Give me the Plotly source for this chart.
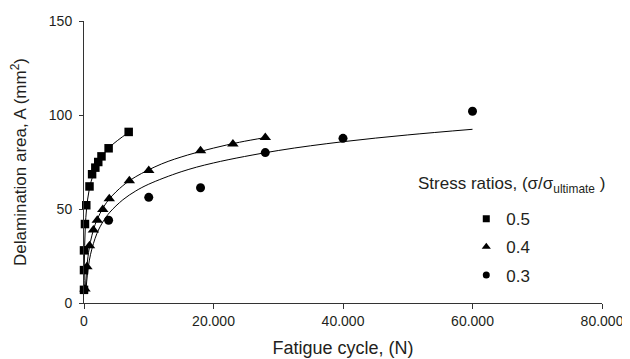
import plotly.graph_objects as go

# Measured data points (fatigue cycles N, delamination area A in mm^2)
sq_N = [0, 0, 0, 150, 350, 850, 1250, 1750, 2200, 2700, 3800, 6900]
sq_A = [7, 17.5, 28, 42, 52, 62, 68.5, 72, 75, 78, 82.3, 91]

tri_N = [150, 450, 850, 1450, 2050, 2900, 3900, 7000, 10000, 18000, 23000, 28000]
tri_A = [7.5, 19.3, 30.5, 38.8, 44, 49.8, 55.5, 65, 70.5, 81, 84.6, 88]

circ_N = [3800, 10000, 18000, 28000, 40000, 60000]
circ_A = [44, 56.2, 61.3, 80, 87.6, 102]

# Trend curves
sq_fit_N = [20, 50, 100, 200, 400, 800, 1500, 2500, 4000, 7000]
sq_fit_A = [7.8, 20.8, 30.7, 40.5, 50.3, 60.2, 69.1, 76.4, 83.0, 91.0]

tri_fit_N = [200, 400, 700, 1000, 1500, 2000, 3000, 4000, 6000, 8000, 12000, 16000, 20000, 24000, 28000]
tri_fit_A = [6, 17.5, 26.8, 32.7, 39.4, 44.2, 50.9, 55.7, 62.4, 67.2, 74, 78.7, 82.4, 85.5, 88]

circ_fit_N = [320, 500, 1000, 2000, 3000, 4000, 6000, 8000, 10000, 15000, 20000, 30000, 40000, 50000, 60000]
circ_fit_A = [7, 14.4, 25.7, 37, 43.6, 48.3, 54.9, 59.6, 63.2, 69.8, 74.5, 81.1, 85.8, 89.4, 92.4]

series_names = ["0.5", "0.4", "0.3"]
symbols = ["square", "triangle-up", "circle"]
x_ticks = [0, 20000, 40000, 60000, 80000]
y_ticks = [0, 50, 100, 150]

FONT = "Liberation Sans, Arial, sans-serif"
TXT = "#231f20"

fig = go.Figure()

for fx, fy in [(sq_fit_N, sq_fit_A), (tri_fit_N, tri_fit_A), (circ_fit_N, circ_fit_A)]:
    fig.add_trace(go.Scatter(x=fx, y=fy, mode="lines", line=dict(color="black", width=1, shape="spline"),
                             showlegend=False, hoverinfo="skip", cliponaxis=False))

markers = [(sq_N, sq_A, 8.5), (tri_N, tri_A, 10), (circ_N, circ_A, 9)]
for i, (x, y, sz) in enumerate(markers):
    fig.add_trace(go.Scatter(x=x, y=y, mode="markers", name=series_names[i],
                             showlegend=False,
                             marker=dict(symbol=symbols[i], size=sz, color="black"),
                             cliponaxis=False))

# legend-only entries (smaller symbols, as in the reference legend)
for i, name in enumerate(series_names):
    fig.add_trace(go.Scatter(x=[None], y=[None], mode="markers", name=name, legendgroup=name,
                             marker=dict(symbol=symbols[i], size=[7, 8, 7][i], color="black")))

fig.add_annotation(text="Stress ratios, (σ/σ<sub>ultimate</sub> )", xref="paper", yref="paper",
                   x=0.640, y=0.418, xanchor="left", yanchor="middle", showarrow=False,
                   font=dict(size=17, color=TXT, family=FONT))

# the page body has an 8px default margin, so the figure is sized 8px smaller
fig.update_layout(
    width=622, height=351,
    margin=dict(l=76, r=28, t=13, b=56),
    paper_bgcolor="white", plot_bgcolor="white",
    separators=",.",
    font=dict(family=FONT, size=14, color=TXT),
    showlegend=True,
    legend=dict(x=0.738, y=0.361, xanchor="left", yanchor="top", traceorder="grouped",
                tracegroupgap=3, font=dict(size=17, color=TXT), bgcolor="rgba(0,0,0,0)",
                itemsizing="trace"),
    xaxis=dict(range=[0, 80000], tickvals=x_ticks, tickformat=",d", showgrid=False, zeroline=False,
               automargin=False,
               showline=True, linecolor="#333", linewidth=1, ticks="outside", ticklen=5, tickcolor="#333",
               title=dict(text="Fatigue cycle, (N)", font=dict(size=18, color=TXT), standoff=13),
               tickfont=dict(size=14, color=TXT)),
    yaxis=dict(range=[0, 150], tickvals=y_ticks, showgrid=False, zeroline=False,
               automargin=False, ticklabelstandoff=4,
               showline=True, linecolor="#333", linewidth=1, ticks="outside", ticklen=4, tickcolor="#333",
               title=dict(text="Delamination area, A (mm<sup>2</sup>)", font=dict(size=17, color=TXT), standoff=18),
               tickfont=dict(size=14, color=TXT)),
)

fig.write_html("out.html")
